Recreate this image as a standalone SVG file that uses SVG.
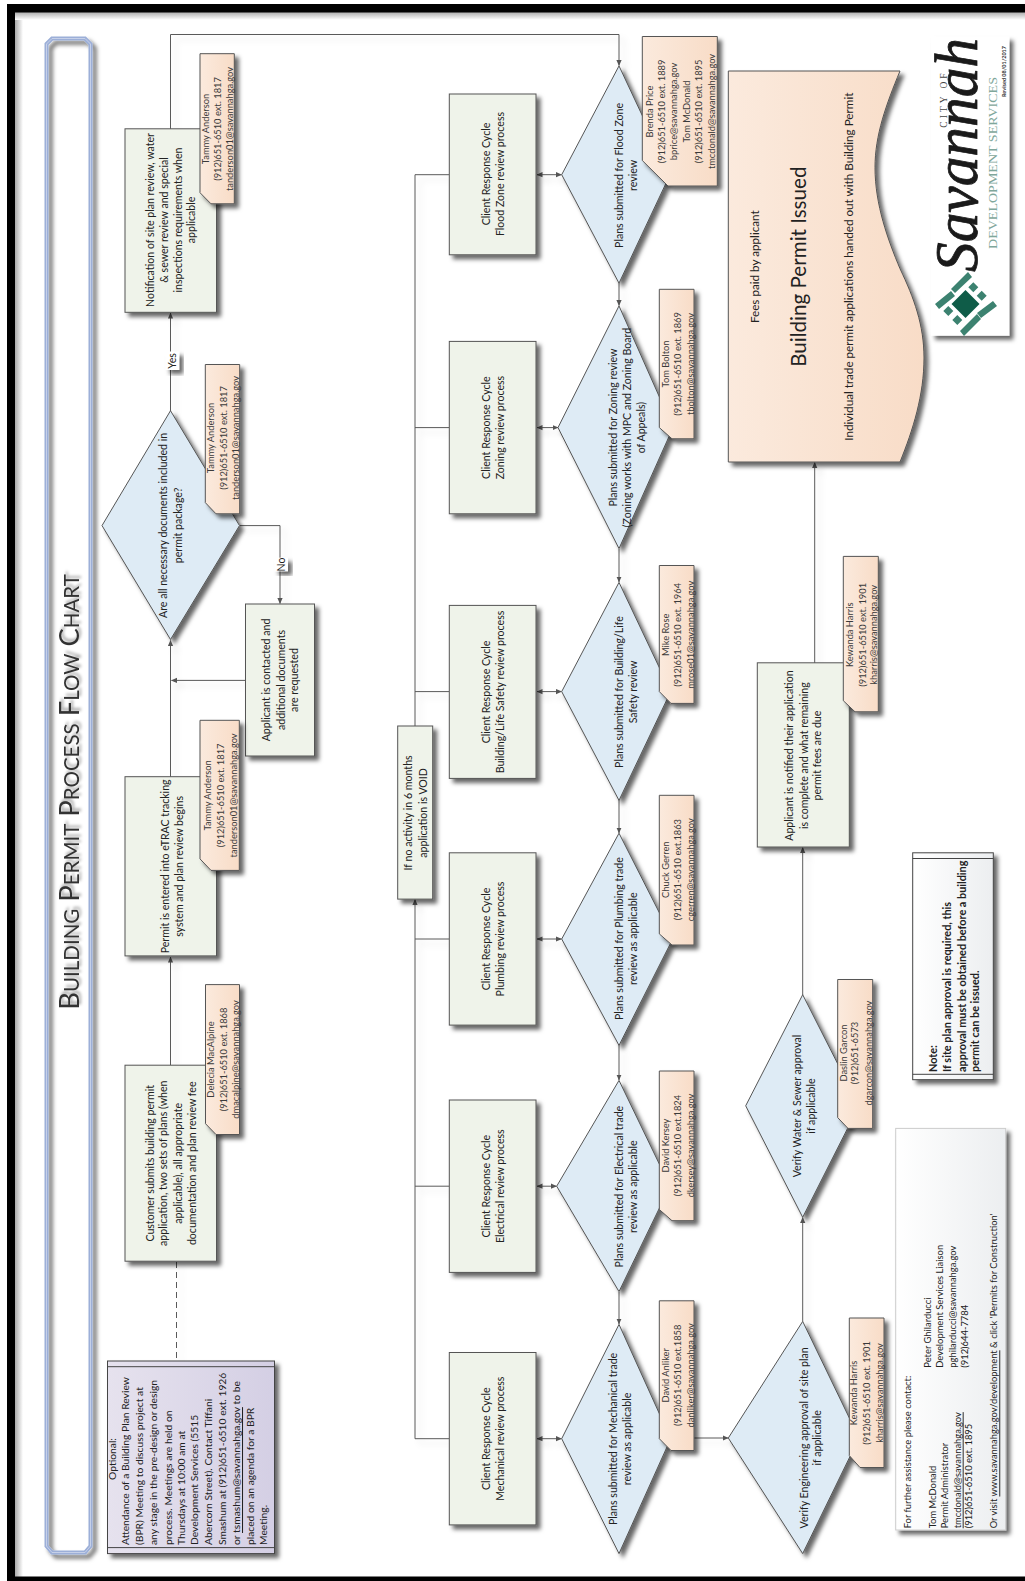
<svg xmlns="http://www.w3.org/2000/svg" width="1025" height="1581" viewBox="0 0 1025 1581">
<style>
text{font-family:Lato,"Open Sans","Liberation Sans",sans-serif;dominant-baseline:central;text-anchor:middle;fill:#222;font-size:10.6px}
.n{fill:#3a3a3a;font-size:9.3px}
.s{text-anchor:start}
.o{font-size:10.3px}
.b{font-weight:700;font-size:10.850px}
.k{font-size:9.400px}
.m{font-size:11.700px}
.u{text-decoration:underline}
.r{fill:#eff3ea;stroke:#555;stroke-width:1}
.d{fill:#deebf5;stroke:#555;stroke-width:1}
.p{fill:url(#peach);stroke:#555;stroke-width:1}
.c{fill:none;stroke:#5a5a5a;stroke-width:1}
.lb{fill:#fff;stroke:none}
.sh{filter:url(#sh)}
.t2{font-size:20.500px}
</style>
<defs>
<filter id="sh" x="-20%" y="-20%" width="150%" height="150%"><feDropShadow dx="4" dy="4" stdDeviation="2" flood-color="#000" flood-opacity=".6"/></filter>
<filter id="soft" x="-5%" y="-5%" width="110%" height="110%"><feDropShadow dx="5" dy="5" stdDeviation="3" flood-color="#000" flood-opacity=".12"/></filter>
<filter id="tsh" x="-20%" y="-5%" width="150%" height="110%"><feDropShadow dx="3" dy="2" stdDeviation="1.5" flood-color="#000" flood-opacity=".35"/></filter>
<linearGradient id="peach" x1="0" x2="1" y1="0" y2="0"><stop offset="0" stop-color="#fbeadd"/><stop offset="1" stop-color="#f8dcc7"/></linearGradient>
<linearGradient id="lav" x1="0" x2="1" y1="0" y2="0"><stop offset="0" stop-color="#e6e2ee"/><stop offset="1" stop-color="#d4cfe4"/></linearGradient>
<linearGradient id="gray" x1="0" x2="1" y1="0" y2="0"><stop offset="0" stop-color="#fff"/><stop offset="1" stop-color="#eceef0"/></linearGradient>
<linearGradient id="inL" x1="0" x2="1" y1="0" y2="0"><stop offset="0" stop-color="#aaa"/><stop offset="1" stop-color="#fff"/></linearGradient>
<linearGradient id="inT" x1="0" x2="0" y1="0" y2="1"><stop offset="0" stop-color="#aaa"/><stop offset="1" stop-color="#fff"/></linearGradient>
<marker id="ah" viewBox="0 0 6 6" refX="5.5" refY="3" markerWidth="6" markerHeight="6" markerUnits="userSpaceOnUse" orient="auto-start-reverse"><path d="M0,0.4L6,3L0,5.6Z" fill="#555"/></marker>
</defs>

<g id="page-border">
<rect x="15" y="12" width="8" height="1565" fill="url(#inL)"/>
<rect x="15" y="12" width="1010" height="8" fill="url(#inT)"/>
<rect x="7" y="4" width="1018" height="8.500" fill="#000"/>
<rect x="7" y="4" width="8" height="1577" fill="#000"/>
<rect x="7" y="1576.500" width="1018" height="4.500" fill="#000"/>
<path class="sh" d="M1010.700,36V1554" fill="none" stroke="#a6cbe0" stroke-width="2"/>
</g>

<g id="title-frame">
<path class="sh" d="M46.500,44L52,38.500H85L90.500,44V1546L85,1552.500H52L46.500,1546Z" fill="none" stroke="#9cafd8" stroke-width="4"/>
<path d="M46.500,44L52,38.500H85L90.500,44V1546L85,1552.500H52L46.500,1546Z" fill="none" stroke="#c6d0e8" stroke-width="1"/>
</g>
<text id="title" filter="url(#tsh)" transform="translate(0,792) rotate(-90)" y="78.500" style="fill:#333;font-size:27.400px;dominant-baseline:auto">B<tspan class="t2">UILDING</tspan> P<tspan class="t2">ERMIT</tspan> P<tspan class="t2">ROCESS</tspan> F<tspan class="t2">LOW</tspan> C<tspan class="t2">HART</tspan></text>

<g id="connectors" filter="url(#soft)">
<path class="c" d="M170.500,129V34.500H619V65.500" marker-end="url(#ah)"/>
<path class="c" d="M170.500,411V313" marker-end="url(#ah)"/>
<path class="c" d="M240,525.600H280V603.500" marker-end="url(#ah)"/>
<path class="c" d="M170.500,777V640.500" marker-end="url(#ah)"/>
<path class="c" d="M245,680.400H171.500" marker-end="url(#ah)"/>
<path class="c" d="M170.500,1065V957" marker-end="url(#ah)"/>
<path class="c" d="M176.500,1262V1360" stroke-dasharray="6,4"/>
<path class="c" d="M619,283V305.500" marker-end="url(#ah)"/>
<path class="c" d="M619,549V582" marker-end="url(#ah)"/>
<path class="c" d="M619,800V833" marker-end="url(#ah)"/>
<path class="c" d="M619,1045V1080" marker-end="url(#ah)"/>
<path class="c" d="M619,1292V1324" marker-end="url(#ah)"/>
<path class="c" d="M537,174.700H561.500" marker-start="url(#ah)" marker-end="url(#ah)"/>
<path class="c" d="M537,427.600H558" marker-start="url(#ah)" marker-end="url(#ah)"/>
<path class="c" d="M537,691.600H561.500" marker-start="url(#ah)" marker-end="url(#ah)"/>
<path class="c" d="M537,939H561.500" marker-start="url(#ah)" marker-end="url(#ah)"/>
<path class="c" d="M537,1186.200H556.500" marker-start="url(#ah)" marker-end="url(#ah)"/>
<path class="c" d="M537,1438.700H561.500" marker-start="url(#ah)" marker-end="url(#ah)"/>
<path class="c" d="M449,174.700H415V726"/>
<path class="c" d="M449,427.600H415"/>
<path class="c" d="M449,691.600H415"/>
<path class="c" d="M449,939H415"/>
<path class="c" d="M449,1186.200H415"/>
<path class="c" d="M449,1438.700H415V899.500" marker-end="url(#ah)"/>
<path class="c" d="M690,1438H728" marker-end="url(#ah)"/>
<path class="c" d="M802.700,1321.500V1217.500" marker-end="url(#ah)"/>
<path class="c" d="M802.700,995V847.500" marker-end="url(#ah)"/>
<path class="c" d="M814.700,663V462.500" marker-end="url(#ah)"/>
</g>

<g id="label-yes"><rect class="lb" x="165.700" y="351.500" width="13.500" height="18.500" style="filter:url(#sh)"/><text transform="translate(0,361) rotate(-90)" y="172">Yes</text></g>
<g id="label-no"><rect class="lb" x="274.500" y="557.700" width="13.500" height="13.500" style="filter:url(#sh)"/><text transform="translate(0,564.500) rotate(-90)" y="281">No</text></g>

<g id="n-notification"><rect class="r sh" x="125" y="128.800" width="91.500" height="183.500"/>
<text transform="translate(0,220) rotate(-90)"><tspan x="0" y="150">Notification of site plan review, water</tspan><tspan x="0" y="163.500">&amp; sewer review and special</tspan><tspan x="0" y="177.500">inspections requirements when</tspan><tspan x="0" y="190.500">applicable</tspan></text></g>
<g id="note-tammy1"><path class="p sh" d="M200,53.700H234.300V203.800H211L200,192.700Z"/>
<text class="n" transform="translate(0,129) rotate(-90)"><tspan x="0" y="205">Tammy Anderson</tspan><tspan x="0" y="216.700">(912)651-6510 ext. 1817</tspan><tspan x="0" y="229.300">tanderson01@savannahga.gov</tspan></text></g>

<g id="n-docs"><path class="d sh" d="M170.500,410.700L239.500,525.600L170.500,639.500L102,525.600Z"/>
<text transform="translate(0,525.400) rotate(-90)"><tspan x="0" y="163.300">Are all necessary documents included in</tspan><tspan x="0" y="178.300">permit package?</tspan></text></g>
<g id="note-tammy2"><path class="p sh" d="M205.300,364.500H239.700V513.800H216L205.300,502.600Z"/>
<text class="n" transform="translate(0,438) rotate(-90)"><tspan x="0" y="210">Tammy Anderson</tspan><tspan x="0" y="222.700">(912)651-6510 ext. 1817</tspan><tspan x="0" y="235">tanderson01@savannahga.gov</tspan></text></g>

<g id="n-applicant-contacted"><rect class="r sh" x="245.500" y="604" width="69" height="152"/>
<text transform="translate(0,680) rotate(-90)"><tspan x="0" y="266">Applicant is contacted and</tspan><tspan x="0" y="280.700">additional documents</tspan><tspan x="0" y="294">are requested</tspan></text></g>

<g id="n-permit-entered"><rect class="r sh" x="125" y="776.700" width="91.500" height="179.200"/>
<text transform="translate(0,866.400) rotate(-90)"><tspan x="0" y="165">Permit is entered into eTRAC tracking</tspan><tspan x="0" y="179">system and plan review begins</tspan></text></g>
<g id="note-tammy3"><path class="p sh" d="M200,720.300H239.300V870.400H211L200,858.900Z"/>
<text class="n" transform="translate(0,795.400) rotate(-90)"><tspan x="0" y="207.300">Tammy Anderson</tspan><tspan x="0" y="220">(912)651-6510 ext. 1817</tspan><tspan x="0" y="232.700">tanderson01@savannahga.gov</tspan></text></g>

<g id="n-customer"><rect class="r sh" x="125" y="1065.200" width="91.500" height="196"/>
<text transform="translate(0,1163.300) rotate(-90)"><tspan x="0" y="150">Customer submits building permit</tspan><tspan x="0" y="163.300">application, two sets of plans (when</tspan><tspan x="0" y="177.700">applicable), all appropriate</tspan><tspan x="0" y="191.700">documentation and plan review fee</tspan></text></g>
<g id="note-delecia"><path class="p sh" d="M205.500,984.600H239.500V1134.500H216L205.500,1123.700Z"/>
<text class="n" transform="translate(0,1059.500) rotate(-90)"><tspan x="0" y="210">Delecia MacAlpine</tspan><tspan x="0" y="222.700">(912)651-6510 ext. 1868</tspan><tspan x="0" y="235">dmacalpine@savannahga.gov</tspan></text></g>

<g id="n-optional"><rect class="sh" x="107.500" y="1361" width="167" height="192.600" fill="url(#lav)" stroke="#444" stroke-width="1"/>
<path d="M107.500,1366.700H274.500M107.500,1547.600H274.500" stroke="#444" stroke-width="1"/>
<text class="o" transform="translate(0,1459) rotate(-90)" y="111.700">Optional:</text>
<text class="s o" transform="translate(0,1545) rotate(-90)"><tspan x="0" y="125">Attendance of a Building Plan Review</tspan><tspan x="0" y="139.300">(BPR) Meeting to discuss project at</tspan><tspan x="0" y="153.300">any stage in the pre-design or design</tspan><tspan x="0" y="167.700">process. Meetings are held on</tspan><tspan x="0" y="181">Thursdays at 10:00 am at</tspan><tspan x="0" y="194.300">Development Services (5515</tspan><tspan x="0" y="208.300">Abercorn Street). Contact Tiffani</tspan><tspan x="0" y="221.700">Smashum at (912)651-6510 ext. 1926</tspan><tspan x="0" y="236">or <tspan class="u">tsmashum@savannahga.gov</tspan> to be</tspan><tspan x="0" y="250">placed on an agenda for a BPR</tspan><tspan x="0" y="263.300">Meeting.</tspan></text></g>

<g id="n-void"><rect class="r sh" x="397.700" y="726" width="35" height="173.100"/>
<text transform="translate(0,812.900) rotate(-90)"><tspan x="0" y="408">If no activity in 6 months</tspan><tspan x="0" y="422.700">application is VOID</tspan></text></g>

<g id="n-flood-cycle"><rect class="r sh" x="449.300" y="94" width="86.700" height="160.800"/>
<text transform="translate(0,174) rotate(-90)"><tspan x="0" y="486">Client Response Cycle</tspan><tspan x="0" y="500">Flood Zone review process</tspan></text></g>
<g id="n-zoning-cycle"><rect class="r sh" x="449.300" y="341.400" width="86.700" height="172.400"/>
<text transform="translate(0,427.600) rotate(-90)"><tspan x="0" y="486">Client Response Cycle</tspan><tspan x="0" y="500">Zoning review process</tspan></text></g>
<g id="n-building-cycle"><rect class="r sh" x="449.300" y="605.400" width="86.700" height="173"/>
<text transform="translate(0,692) rotate(-90)"><tspan x="0" y="486">Client Response Cycle</tspan><tspan x="0" y="500">Building/Life Safety review process</tspan></text></g>
<g id="n-plumbing-cycle"><rect class="r sh" x="449.300" y="852.800" width="86.700" height="172.300"/>
<text transform="translate(0,939) rotate(-90)"><tspan x="0" y="486">Client Response Cycle</tspan><tspan x="0" y="500">Plumbing review process</tspan></text></g>
<g id="n-electrical-cycle"><rect class="r sh" x="449.300" y="1100" width="86.700" height="172.400"/>
<text transform="translate(0,1186.200) rotate(-90)"><tspan x="0" y="486">Client Response Cycle</tspan><tspan x="0" y="500">Electrical review process</tspan></text></g>
<g id="n-mechanical-cycle"><rect class="r sh" x="449.300" y="1352.500" width="86.700" height="172.400"/>
<text transform="translate(0,1438.700) rotate(-90)"><tspan x="0" y="486">Client Response Cycle</tspan><tspan x="0" y="500">Mechanical review process</tspan></text></g>

<g id="n-flood"><path class="d sh" d="M619,65.900L670,174.700L619,283.200L561.700,174.700Z"/>
<text transform="translate(0,175.400) rotate(-90)"><tspan x="0" y="619">Plans submitted for Flood Zone</tspan><tspan x="0" y="633">review</tspan></text></g>
<g id="note-brenda"><path class="p sh" d="M642.300,36.500H717.300V186H668L642.300,160.500Z"/>
<text class="n" transform="translate(0,111.500) rotate(-90)"><tspan x="0" y="649">Brenda Price</tspan><tspan x="0" y="660.700">(912)651-6510 ext. 1889</tspan><tspan x="0" y="673.300">bprice@savannahga.gov</tspan><tspan x="0" y="686">Tom McDonald</tspan><tspan x="0" y="698.300">(912)651-6510 ext. 1895</tspan><tspan x="0" y="711">tmcdonald@savannahga.gov</tspan></text></g>

<g id="n-zoning"><path class="d sh" d="M619,305.900L673,427.600L619,548.600L558,427.600Z"/>
<text transform="translate(0,427.600) rotate(-90)"><tspan x="0" y="612.700">Plans submitted for Zoning review</tspan><tspan x="0" y="626.700">(Zoning works with MPC and Zoning Board</tspan><tspan x="0" y="640.700">of Appeals)</tspan></text></g>
<g id="note-bolton"><path class="p sh" d="M659.300,289.300H694V438.800H672L659.300,427.600Z"/>
<text class="n" transform="translate(0,364) rotate(-90)"><tspan x="0" y="665">Tom Bolton</tspan><tspan x="0" y="676.700">(912)651-6510 ext. 1869</tspan><tspan x="0" y="690">tbolton@savannahga.gov</tspan></text></g>

<g id="n-building"><path class="d sh" d="M619,582.400L670.700,691.600L619,800.400L561.700,691.600Z"/>
<text transform="translate(0,692) rotate(-90)"><tspan x="0" y="619">Plans submitted for Building/Life</tspan><tspan x="0" y="633">Safety review</tspan></text></g>
<g id="note-rose"><path class="p sh" d="M659.300,565.500H694V703.400H671L659.300,691.600Z"/>
<text class="n" transform="translate(0,634.800) rotate(-90)"><tspan x="0" y="665">Mike Rose</tspan><tspan x="0" y="677">(912)651-6510 ext. 1964</tspan><tspan x="0" y="690">mrose01@savannahga.gov</tspan></text></g>

<g id="n-plumbing"><path class="d sh" d="M619,833.200L672.700,939L619,1045.400L561.700,939Z"/>
<text transform="translate(0,938.600) rotate(-90)"><tspan x="0" y="619">Plans submitted for Plumbing trade</tspan><tspan x="0" y="633">review as applicable</tspan></text></g>
<g id="note-gerren"><path class="p sh" d="M659.300,795.300H694V945H672L659.300,933.900Z"/>
<text class="n" transform="translate(0,869.700) rotate(-90)"><tspan x="0" y="665">Chuck Gerren</tspan><tspan x="0" y="677">(912)651-6510 ext.1863</tspan><tspan x="0" y="690">cgerren@savannahga.gov</tspan></text></g>

<g id="n-electrical"><path class="d sh" d="M619,1080.400L670,1186.200L619,1291.600L556.700,1186.200Z"/>
<text transform="translate(0,1186.600) rotate(-90)"><tspan x="0" y="619">Plans submitted for Electrical trade</tspan><tspan x="0" y="633">review as applicable</tspan></text></g>
<g id="note-kersey"><path class="p sh" d="M659.300,1071H694V1220.700H672L659.300,1209.500Z"/>
<text class="n" transform="translate(0,1145.500) rotate(-90)"><tspan x="0" y="665">David Kersey</tspan><tspan x="0" y="677">(912)651-6510 ext.1824</tspan><tspan x="0" y="690">dkersey@savannahga.gov</tspan></text></g>

<g id="n-mechanical"><path class="d sh" d="M619,1324.400L670.700,1438.700L619,1553.600L561.700,1438.700Z"/>
<text transform="translate(0,1438.900) rotate(-90)"><tspan x="0" y="612.700">Plans submitted for Mechanical trade</tspan><tspan x="0" y="626.700">review as applicable</tspan></text></g>
<g id="note-anliker"><path class="p sh" d="M659.300,1300.800H694V1450.500H671L659.300,1438.700Z"/>
<text class="n" transform="translate(0,1375.300) rotate(-90)"><tspan x="0" y="665">David Anliker</tspan><tspan x="0" y="677">(912)651-6510 ext.1858</tspan><tspan x="0" y="690">danliker@savannahga.gov</tspan></text></g>

<g id="n-engineering"><path class="d sh" d="M802.700,1321.400L859,1438L802.700,1553.600L728.300,1438Z"/>
<text transform="translate(0,1437.900) rotate(-90)"><tspan x="0" y="804">Verify Engineering approval of site plan</tspan><tspan x="0" y="817">if applicable</tspan></text></g>
<g id="note-kewanda1"><path class="p sh" d="M849.300,1318H884V1467.500H860L849.300,1455.600Z"/>
<text class="n" transform="translate(0,1393) rotate(-90)"><tspan x="0" y="853.300">Kewanda Harris</tspan><tspan x="0" y="866">(912)651-6510 ext. 1901</tspan><tspan x="0" y="879">kharris@savannahga.gov</tspan></text></g>

<g id="n-water"><path class="d sh" d="M802.700,994.700L859,1105.800L802.700,1217.300L745.700,1105.800Z"/>
<text transform="translate(0,1106) rotate(-90)"><tspan x="0" y="796.700">Verify Water &amp; Sewer approval</tspan><tspan x="0" y="811">if applicable</tspan></text></g>
<g id="note-garcon"><path class="p sh" d="M837.700,979.500H872.700V1128.400H848L837.700,1117.600Z"/>
<text class="n" transform="translate(0,1053) rotate(-90)"><tspan x="0" y="842.700">Daslin Garcon</tspan><tspan x="0" y="854">(912)651-6573</tspan><tspan x="0" y="868">dgarcon@savannahga.gov</tspan></text></g>

<g id="n-applicant-notified"><rect class="r sh" x="757.300" y="662.800" width="92" height="184.200"/>
<text transform="translate(0,755.600) rotate(-90)"><tspan x="0" y="789.300">Applicant is notified their application</tspan><tspan x="0" y="804">is complete and what remaining</tspan><tspan x="0" y="817.300">permit fees are due</tspan></text></g>
<g id="note-kewanda2"><path class="p sh" d="M843.300,556.400H878.300V711.800H855L843.300,700.700Z"/>
<text class="n" transform="translate(0,634.800) rotate(-90)"><tspan x="0" y="849">Kewanda Harris</tspan><tspan x="0" y="861.700">(912)651-6510 ext. 1901</tspan><tspan x="0" y="873.300">kharris@savannahga.gov</tspan></text></g>

<g id="n-issued"><path class="p sh" d="M728.300,71H900C886,105 875,135 875,167.300C875,205 888,240 900,268.700C914,298 924,325 924,358C924,395 913,430 900,462H728.300Z"/>
<text class="m" transform="translate(0,266.700) rotate(-90)" y="754">Fees paid by applicant</text>
<text transform="translate(0,266.700) rotate(-90)" y="797.700" style="font-size:20.600px">Building Permit Issued</text>
<text class="m" transform="translate(0,266.700) rotate(-90)" y="847.700">Individual trade permit applications handed out with Building Permit</text></g>

<g id="logo"><rect class="sh" x="931" y="36.500" width="78.300" height="299.200" fill="#fff"/>
<text transform="translate(0,155) rotate(-90)" style="font-family:'Liberation Serif',serif;font-style:italic;fill:#1a1a1a;stroke:#1a1a1a;stroke-width:.8px;font-size:62px;dominant-baseline:auto" y="977" textLength="234" lengthAdjust="spacingAndGlyphs">Savannah</text>
<text transform="translate(0,99) rotate(-90)" style="font-family:'Liberation Serif',serif;fill:#444;font-size:9.500px;letter-spacing:3px;dominant-baseline:auto" y="946.700">CITY OF</text>
<text transform="translate(0,163) rotate(-90)" style="font-family:'Liberation Serif',serif;fill:#7fa79b;font-size:12.500px;dominant-baseline:auto" y="996.700" textLength="172" lengthAdjust="spacingAndGlyphs">DEVELOPMENT SERVICES</text>
<text class="b" transform="translate(0,71.500) rotate(-90)" style="fill:#333;font-size:5.500px" y="1004">Revised 08/01/2017</text>
<path fill="#0f5c48" d="M965.500,290L979.500,304L965.500,318L951.500,304Z"/>
<path fill="#3c8270" d="M973.300,282.300L978.300,287.300L973.300,292.300L968.300,287.300ZM981.700,290.700L986.700,295.700L981.700,300.700L976.700,295.700ZM948.300,306L953.300,311L948.300,316L943.300,311ZM957.300,315L962.300,320L957.300,325L952.300,320Z"/>
<path fill="#3c8270" d="M951,289L968,272L972,277L955,293ZM935,304L951,291L955,296L939,309ZM977,313L993,301L997,306L981,318ZM960,331L977,314L981,319L964,336Z"/>
</g>

<g id="n-note"><rect class="sh" x="912.700" y="852.800" width="80.600" height="226.900" fill="url(#gray)" stroke="#444" stroke-width="1"/>
<path d="M912.700,858.500H993.300M912.700,1074.300H993.300" stroke="#444" stroke-width="1"/>
<text class="s b" transform="translate(0,1072) rotate(-90)"><tspan x="0" y="932">Note:</tspan><tspan x="0" y="946">If site plan approval is required, this</tspan><tspan x="0" y="960.700">approval must be obtained before a building</tspan><tspan x="0" y="974">permit can be issued.</tspan></text></g>

<g id="n-contact"><rect class="sh" x="895.700" y="1128.400" width="110" height="401.600" fill="url(#gray)" stroke="#ccc" stroke-width="1"/>
<text class="s k" transform="translate(0,1528.300) rotate(-90)"><tspan x="0" y="906.700">For further assistance please contact:</tspan><tspan x="0" y="931.700">Tom McDonald</tspan><tspan x="0" y="944">Permit Administrator</tspan><tspan x="0" y="956.700" class="u">tmcdonald@savannahga.gov</tspan><tspan x="0" y="968.300">(912)651-6510 ext. 1895</tspan><tspan x="0" y="993.300">Or visit <tspan class="u">www.savannahga.gov/development</tspan> &amp; click 'Permits for Construction'</tspan></text>
<text class="s k" transform="translate(0,1367.700) rotate(-90)"><tspan x="0" y="927.300">Peter Ghilarducci</tspan><tspan x="0" y="939.300">Development Services Liaison</tspan><tspan x="0" y="951.700">pghilarducci@savannahga.gov</tspan><tspan x="0" y="964">(912)644-7784</tspan></text></g>
</svg>
